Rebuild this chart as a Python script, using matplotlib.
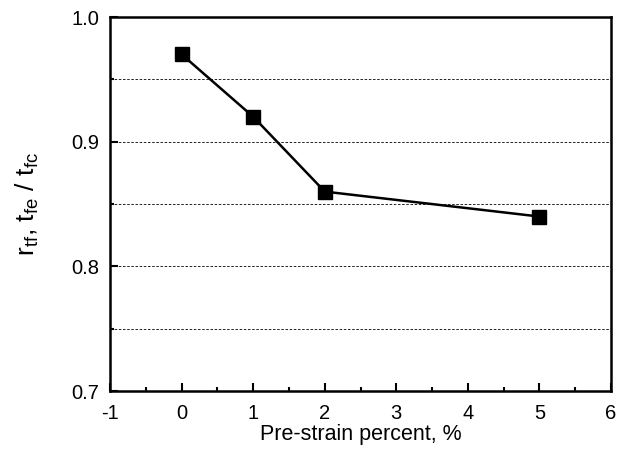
import matplotlib.pyplot as plt
from matplotlib.ticker import MultipleLocator

plt.rcParams['font.family'] = ['Liberation Sans', 'DejaVu Sans']
plt.rcParams['axes.unicode_minus'] = False

strain = [0, 1, 2, 5]
ratio = [0.97, 0.92, 0.86, 0.84]

fig = plt.figure(figsize=(6.37, 4.49), dpi=100)
ax = fig.add_axes([0.173, 0.129, 0.786, 0.833])

for y in [0.75, 0.8, 0.85, 0.9, 0.95]:
    ax.axhline(y, color='black', lw=0.6, ls=(0, (3, 2)), zorder=1)

ax.plot(strain, ratio, color='black', lw=1.8, marker='s', ms=10,
        markerfacecolor='black', zorder=3)

ax.set_xlim(-1, 6)
ax.set_ylim(0.7, 1.0)
ax.xaxis.set_major_locator(MultipleLocator(1))
ax.xaxis.set_minor_locator(MultipleLocator(0.5))
ax.yaxis.set_major_locator(MultipleLocator(0.1))
ax.yaxis.set_minor_locator(MultipleLocator(0.05))
ax.tick_params(which='both', direction='in', labelsize=14.5, width=1.5)
ax.tick_params(which='major', length=6)
ax.tick_params(axis='x', which='major', pad=9)
ax.tick_params(axis='y', which='major', pad=8)
ax.tick_params(which='minor', length=3)
for s in ax.spines.values():
    s.set_linewidth(1.8)

ax.set_xlabel('Pre-strain percent, %', fontsize=15.5, labelpad=1)
ax.set_ylabel(r'r$_{\mathregular{tf}}$, t$_{\mathregular{fe}}$ / t$_{\mathregular{fc}}$', fontsize=19, labelpad=22)

fig.savefig('out.png', dpi=100)
